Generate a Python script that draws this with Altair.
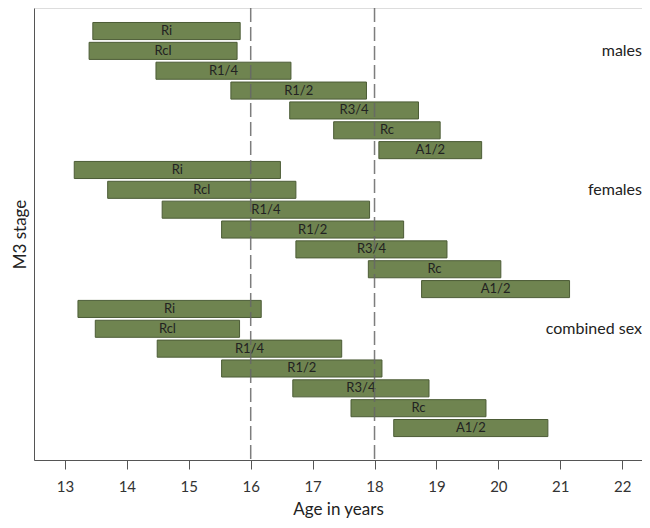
import altair as alt
import pandas as pd

stages = ["Ri", "Rcl", "R1/4", "R1/2", "R3/4", "Rc", "A1/2"]
groups = ["males", "females", "combined sex"]

males_start = [13.45, 13.39, 14.47, 15.68, 16.63, 17.34, 18.07]
males_end = [15.83, 15.78, 16.65, 17.87, 18.71, 19.06, 19.73]
females_start = [13.15, 13.69, 14.57, 15.53, 16.73, 17.90, 18.76]
females_end = [16.48, 16.73, 17.92, 18.47, 19.17, 20.04, 21.15]
combined_start = [13.21, 13.49, 14.49, 15.53, 16.68, 17.62, 18.31]
combined_end = [16.17, 15.82, 17.47, 18.12, 18.88, 19.80, 20.80]

ref_ages = [16, 18]
x_ticks = [13, 14, 15, 16, 17, 18, 19, 20, 21, 22]

FONT = "Lato, Open Sans, sans-serif"

rows = []
starts = [males_start, females_start, combined_start]
ends = [males_end, females_end, combined_end]
for g, (gs, ge) in enumerate(zip(starts, ends)):
    for s, st in enumerate(stages):
        idx = g * len(stages) + s
        rows.append({
            "group": groups[g], "stage": st, "start": gs[s], "end": ge[s],
            "mid": (gs[s] + ge[s]) / 2, "row": idx,
            "top": idx - 0.43, "bottom": idx + 0.43,
        })
df = pd.DataFrame(rows)

X_MAX = 22.32
grp_df = pd.DataFrame({
    "label": groups,
    "row": [g * len(stages) + 1 for g in range(len(groups))],
    "x": [X_MAX] * len(groups),
})
ref_df = pd.DataFrame({"age": ref_ages})

xscale = alt.Scale(domain=[12.5, X_MAX], nice=False, zero=False)
yscale = alt.Scale(domain=[-1.16, 21.61], reverse=True, nice=False, zero=False)

bars = alt.Chart(df).mark_bar(
    fill="#6f8450", stroke="#4c5c36", strokeWidth=1
).encode(
    x=alt.X("start:Q", scale=xscale,
            axis=alt.Axis(values=x_ticks, format="d", title="Age in years",
                          grid=False, tickSize=9, labelPadding=10,
                          titlePadding=7, labelFontSize=15, titleFontSize=17,
                          titleFontWeight="normal", labelColor="#333",
                          titleColor="#222", domainColor="#555",
                          tickColor="#555", labelFont=FONT, titleFont=FONT)),
    x2="end:Q",
    y=alt.Y("top:Q", scale=yscale,
            axis=alt.Axis(title="M3 stage", labels=False, ticks=False,
                          grid=False, domainColor="#555", titleFontSize=17,
                          titleFontWeight="normal", titleColor="#222",
                          titlePadding=5, titleFont=FONT)),
    y2="bottom:Q",
)

labels = alt.Chart(df).mark_text(
    fontSize=13, color="#222", font=FONT, baseline="middle", align="center"
).encode(
    x=alt.X("mid:Q", scale=xscale),
    y=alt.Y("row:Q", scale=yscale),
    text="stage:N",
)

refs = alt.Chart(ref_df).mark_rule(
    color="#666", strokeDash=[14, 5], strokeWidth=1.5, opacity=0.85
).encode(x=alt.X("age:Q", scale=xscale))

grp = alt.Chart(grp_df).mark_text(
    fontSize=16, color="#222", font=FONT, align="right", baseline="middle"
).encode(
    x=alt.X("x:Q", scale=xscale),
    y=alt.Y("row:Q", scale=yscale),
    text="label:N",
)

chart = alt.layer(bars, labels, refs, grp).properties(
    width=608, height=452,
    autosize=alt.AutoSizeParams(type="none"),
    padding={"left": 26, "top": 0, "right": 0, "bottom": 60},
).configure_view(stroke=None).configure(background="white")

chart.save("out.html", embed_options={"renderer": "svg", "actions": False})
